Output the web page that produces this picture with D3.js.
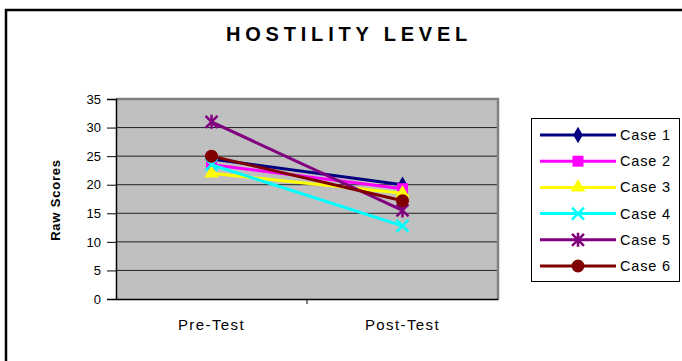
<!DOCTYPE html>
<html><head><meta charset="utf-8">
<script src="https://cdn.jsdelivr.net/npm/d3@7"></script>
<style>body{margin:0;background:#fff}svg{display:block}text{font-family:"Liberation Sans",Arial,sans-serif}</style>
</head><body><svg id="c" width="682" height="361"></svg>
<script>
const categories = ["Pre-Test", "Post-Test"];
const seriesNames = ["Case 1", "Case 2", "Case 3", "Case 4", "Case 5", "Case 6"];
const case1 = [24.5, 20];
const case2 = [23.5, 19.3];
const case3 = [22, 18.5];
const case4 = [23.5, 12.8];
const case5 = [31, 15.5];
const case6 = [25, 17.2];
const yTicks = [0, 5, 10, 15, 20, 25, 30, 35];
const colors = ["#000080", "#FF00FF", "#FFFF00", "#00FFFF", "#800080", "#800000"];
const shapes = ["diamond", "square", "triangle", "x", "asterisk", "circle"];
const allSeries = [case1, case2, case3, case4, case5, case6];

const svg = d3.select("#c");
// outer frame
svg.append("path").attr("d", "M6,361 V10 H682").attr("fill", "none").attr("stroke", "#000").attr("stroke-width", 2.5);

const L = 116, R = 498, T = 99, B = 299;
const x = d3.scaleBand().domain(categories).range([L, R]);
const y = d3.scaleLinear().domain([0, 35]).range([B, T]);

svg.append("rect").attr("x", L).attr("y", T).attr("width", R - L).attr("height", B - T).attr("fill", "#C0C0C0");
svg.append("g").selectAll("line").data(yTicks.filter(d => d > 0)).join("line")
  .attr("x1", L).attr("x2", R).attr("y1", d => y(d)).attr("y2", d => y(d))
  .attr("stroke", "#222").attr("stroke-width", 1);
// plot border top/right
svg.append("path").attr("d", `M${L},${T} H${R} V${B}`).attr("fill", "none").attr("stroke", "#808080").attr("stroke-width", 2.5);

const yAxis = svg.append("g").attr("transform", `translate(${L},0)`)
  .call(d3.axisLeft(y).tickValues(yTicks).tickSize(9).tickPadding(6));
yAxis.select(".domain").attr("stroke", "#000").attr("stroke-width", 1.5);
yAxis.selectAll("text").attr("font-size", 13).attr("fill", "#000");

const xAxis = svg.append("g").attr("transform", `translate(0,${B})`)
  .call(d3.axisBottom(x).tickSize(0).tickPadding(20));
xAxis.select(".domain").attr("stroke", "#000").attr("stroke-width", 1.5);
xAxis.selectAll("text").attr("font-size", 15).attr("letter-spacing", 1.4).attr("fill", "#000");
// category separator ticks
svg.append("g").selectAll("line").data(categories.slice(1)).join("line")
  .attr("x1", d => x(d)).attr("x2", d => x(d)).attr("y1", B).attr("y2", B + 5).attr("stroke", "#000");

svg.append("text").attr("x", 226).attr("y", 41).attr("text-anchor", "start")
  .attr("font-size", 20).attr("font-weight", "bold").attr("letter-spacing", 4.8).text("HOSTILITY LEVEL");

svg.append("text").attr("transform", "translate(60,200) rotate(-90)").attr("text-anchor", "middle")
  .attr("font-size", 13).attr("font-weight", 900).attr("letter-spacing", 0.8).attr("font-family", "DejaVu Sans").text("Raw Scores");

function marker(g, shape, color, cx, cy) {
  const sw = 2.5;
  if (shape === "diamond") g.append("path").attr("d", d3.symbol(d3.symbolDiamond, 80)()).attr("transform", `translate(${cx},${cy})`).attr("fill", color);
  else if (shape === "square") g.append("rect").attr("x", cx - 5.5).attr("y", cy - 5.5).attr("width", 11).attr("height", 11).attr("fill", color);
  else if (shape === "triangle") g.append("path").attr("d", d3.symbol(d3.symbolTriangle, 90)()).attr("transform", `translate(${cx},${cy})`).attr("fill", color);
  else if (shape === "x") g.append("path").attr("d", `M${cx-6},${cy-6}L${cx+6},${cy+6}M${cx-6},${cy+6}L${cx+6},${cy-6}`).attr("stroke", color).attr("stroke-width", sw);
  else if (shape === "asterisk") g.append("path").attr("d", `M${cx-6},${cy-6}L${cx+6},${cy+6}M${cx-6},${cy+6}L${cx+6},${cy-6}M${cx},${cy-7}L${cx},${cy+7}`).attr("stroke", color).attr("stroke-width", sw);
  else if (shape === "circle") g.append("circle").attr("cx", cx).attr("cy", cy).attr("r", 6.5).attr("fill", color);
}

const line = d3.line().x((d, i) => x(categories[i]) + x.bandwidth() / 2).y(d => y(d));
allSeries.forEach((s, k) => {
  const g = svg.append("g");
  g.append("path").attr("d", line(s)).attr("fill", "none").attr("stroke", colors[k]).attr("stroke-width", 3);
  s.forEach((v, i) => marker(g, shapes[k], colors[k], x(categories[i]) + x.bandwidth() / 2, y(v)));
});

// legend
svg.append("rect").attr("x", 531.5).attr("y", 118.5).attr("width", 148).attr("height", 163).attr("fill", "#fff").attr("stroke", "#000").attr("stroke-width", 1);
seriesNames.forEach((n, k) => {
  const ly = 135 + k * 26.2;
  const g = svg.append("g");
  g.append("line").attr("x1", 540).attr("x2", 616).attr("y1", ly).attr("y2", ly).attr("stroke", colors[k]).attr("stroke-width", 3);
  marker(g, shapes[k], colors[k], 578, ly);
  g.append("text").attr("x", 620).attr("y", ly + 5).attr("font-size", 14.5).attr("letter-spacing", 0.8).text(n);
});
</script></body></html>
